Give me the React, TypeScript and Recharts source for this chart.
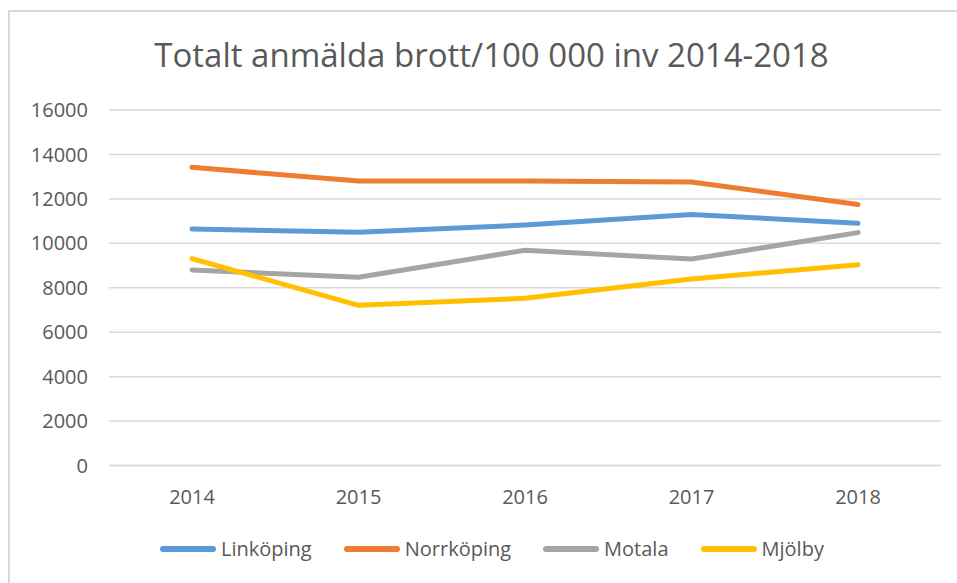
import React from 'react';
import { LineChart, Line, XAxis, YAxis, CartesianGrid } from 'recharts';

const years = ['2014', '2015', '2016', '2017', '2018'];
const linkoping = [10640, 10500, 10820, 11300, 10900];
const norrkoping = [13420, 12800, 12800, 12760, 11750];
const motala = [8800, 8470, 9690, 9290, 10480];
const mjolby = [9310, 7210, 7525, 8390, 9040];
const yTicks = [0, 2000, 4000, 6000, 8000, 10000, 12000, 14000, 16000];

const seriesDefs = [
  { key: 'Linköping', color: '#5B9BD5', values: linkoping },
  { key: 'Norrköping', color: '#ED7D31', values: norrkoping },
  { key: 'Motala', color: '#A5A5A5', values: motala },
  { key: 'Mjölby', color: '#FFC000', values: mjolby },
];

const data = years.map((y, i) => {
  const row: any = { year: y };
  seriesDefs.forEach((s) => {
    row[s.key] = s.values[i];
  });
  return row;
});

const FONT = '"Open Sans", sans-serif';
const TEXT = '#595959';

const LegendBlock = () => (
  <div style={{ position: 'absolute', left: 160, top: 535, display: 'flex', alignItems: 'center', fontFamily: FONT, fontSize: 20, color: TEXT, whiteSpace: 'nowrap' }}>
    {seriesDefs.map((s) => (
      <div key={s.key} style={{ display: 'flex', alignItems: 'center', marginRight: 32 }}>
        <div style={{ width: 56, height: 6, borderRadius: 3, background: s.color, marginRight: 5 }} />
        <span>{s.key}</span>
      </div>
    ))}
  </div>
);

export default function App() {
  return (
    <div style={{ position: 'absolute', left: 0, top: 0, width: 957, height: 583, overflow: 'hidden', background: '#fff' }}>
      <div style={{ position: 'absolute', left: 8, top: 10, width: 1000, height: 700, borderTop: '2px solid #d9d9d9', borderLeft: '2px solid #d9d9d9' }} />
      <div style={{ position: 'absolute', left: 91.5, top: 31.5, width: 800, textAlign: 'center', fontFamily: FONT, fontSize: 33, color: TEXT, whiteSpace: 'nowrap' }}>
        Totalt anmälda brott/100 000 inv 2014-2018
      </div>
      <div style={{ position: 'absolute', left: 0, top: 0 }}>
        <LineChart width={957} height={583} data={data} margin={{ top: 110, right: 16, bottom: 87.5, left: 0 }}>
          <CartesianGrid vertical={false} stroke="#d9d9d9" strokeWidth={1.5} />
          <XAxis
            dataKey="year"
            height={30}
            padding={{ left: 83, right: 83 }}
            tickLine={false}
            axisLine={{ stroke: '#d9d9d9', strokeWidth: 1.5 }}
            tickSize={0}
            tickMargin={24}
            tick={{ fill: TEXT, fontSize: 20, fontFamily: FONT }}
          />
          <YAxis
            width={109}
            domain={[0, 16000]}
            ticks={yTicks}
            interval={0}
            axisLine={false}
            tickLine={false}
            tickSize={0}
            tickMargin={21}
            tick={{ fill: TEXT, fontSize: 20, fontFamily: FONT }}
          />
          {seriesDefs.map((s) => (
            <Line
              key={s.key}
              type="linear"
              dataKey={s.key}
              stroke={s.color}
              strokeWidth={5}
              strokeLinecap="round"
              strokeLinejoin="round"
              dot={false}
              activeDot={false}
              isAnimationActive={false}
            />
          ))}
        </LineChart>
      </div>
      <LegendBlock />
    </div>
  );
}
